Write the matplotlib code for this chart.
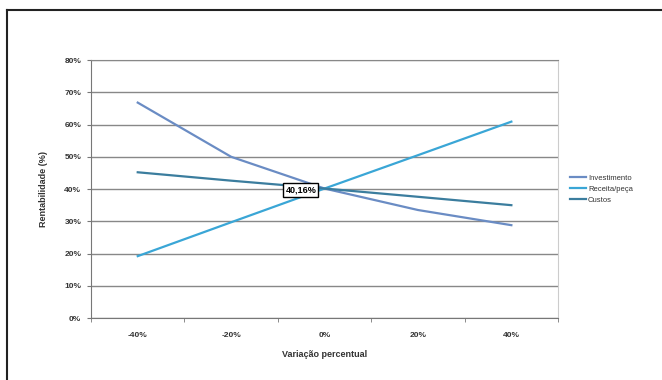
import matplotlib.pyplot as plt
from matplotlib.lines import Line2D
from matplotlib.ticker import FixedLocator

categorias = ['-40%', '-20%', '0%', '20%', '40%']
investimento = [66.8, 50.0, 40.16, 33.5, 28.8]
receita_peca = [19.2, 29.7, 40.16, 50.5, 60.9]
custos = [45.2, 42.6, 40.16, 37.6, 35.0]
y_ticks = [0, 10, 20, 30, 40, 50, 60, 70, 80]
rotulo_ponto = '40,16%'

plt.rcParams['font.family'] = ['Liberation Sans', 'DejaVu Sans']

fig = plt.figure(figsize=(6.62, 3.8), dpi=100)
ax = fig.add_axes([0.1375, 0.163, 0.7055, 0.679])

x = range(len(categorias))
ax.plot(x, investimento, color='#6a8cc4', lw=1.6, label='Investimento')
ax.plot(x, receita_peca, color='#3aa6d6', lw=1.6, label='Receita/peça')
ax.plot(x, custos, color='#3b7d9e', lw=1.6, label='Custos')

ax.set_xlim(-0.5, len(categorias) - 0.5)
ax.set_ylim(0, 80)
ax.set_xticks(list(x))
ax.set_xticklabels(categorias, fontsize=6, fontweight='bold', color='#333333')
ax.xaxis.set_minor_locator(FixedLocator([i + 0.5 for i in range(-1, len(categorias))]))
ax.tick_params(axis='x', which='major', length=0, pad=10)
ax.tick_params(axis='x', which='minor', length=3, color='#777777')
ax.set_yticks(y_ticks)
ax.set_yticklabels([f'{v}%' for v in y_ticks], fontsize=6, fontweight='bold', color='#333333')
ax.tick_params(axis='y', length=3, color='#777777', pad=4)
ax.grid(axis='y', color='#888888', lw=1)
ax.set_axisbelow(True)

ax.spines['left'].set_color('#777777')
ax.spines['bottom'].set_color('#777777')
ax.spines['right'].set_color('#cccccc')
ax.spines['top'].set_color('#888888')

ax.set_xlabel('Variação percentual', fontsize=6.5, fontweight='bold', color='#333333', labelpad=8)
ax.set_ylabel('Rentabilidade (%)', fontsize=6.5, fontweight='bold', color='#333333', labelpad=12)

ax.annotate(rotulo_ponto, (2, 40.16), xytext=(-6, -1), textcoords='offset points',
            ha='right', va='center', fontsize=6.5, fontweight='bold',
            bbox=dict(boxstyle='square,pad=0.25', fc='white', ec='black', lw=1))

leg = ax.legend(loc='center left', bbox_to_anchor=(1.01, 0.5), frameon=False,
                fontsize=5.5, handlelength=2.2, handletextpad=0.2, labelspacing=0.5)
for t in leg.get_texts():
    t.set_color('#333333')

# moldura: so linhas superior e esquerda
fig.lines.append(Line2D([7 / 662, 1], [1 - 9.5 / 380] * 2, transform=fig.transFigure,
                        color='#222222', lw=1.5))
fig.lines.append(Line2D([7 / 662] * 2, [0, 1 - 9.5 / 380], transform=fig.transFigure,
                        color='#222222', lw=1.5))

fig.savefig('out.png', dpi=100)
